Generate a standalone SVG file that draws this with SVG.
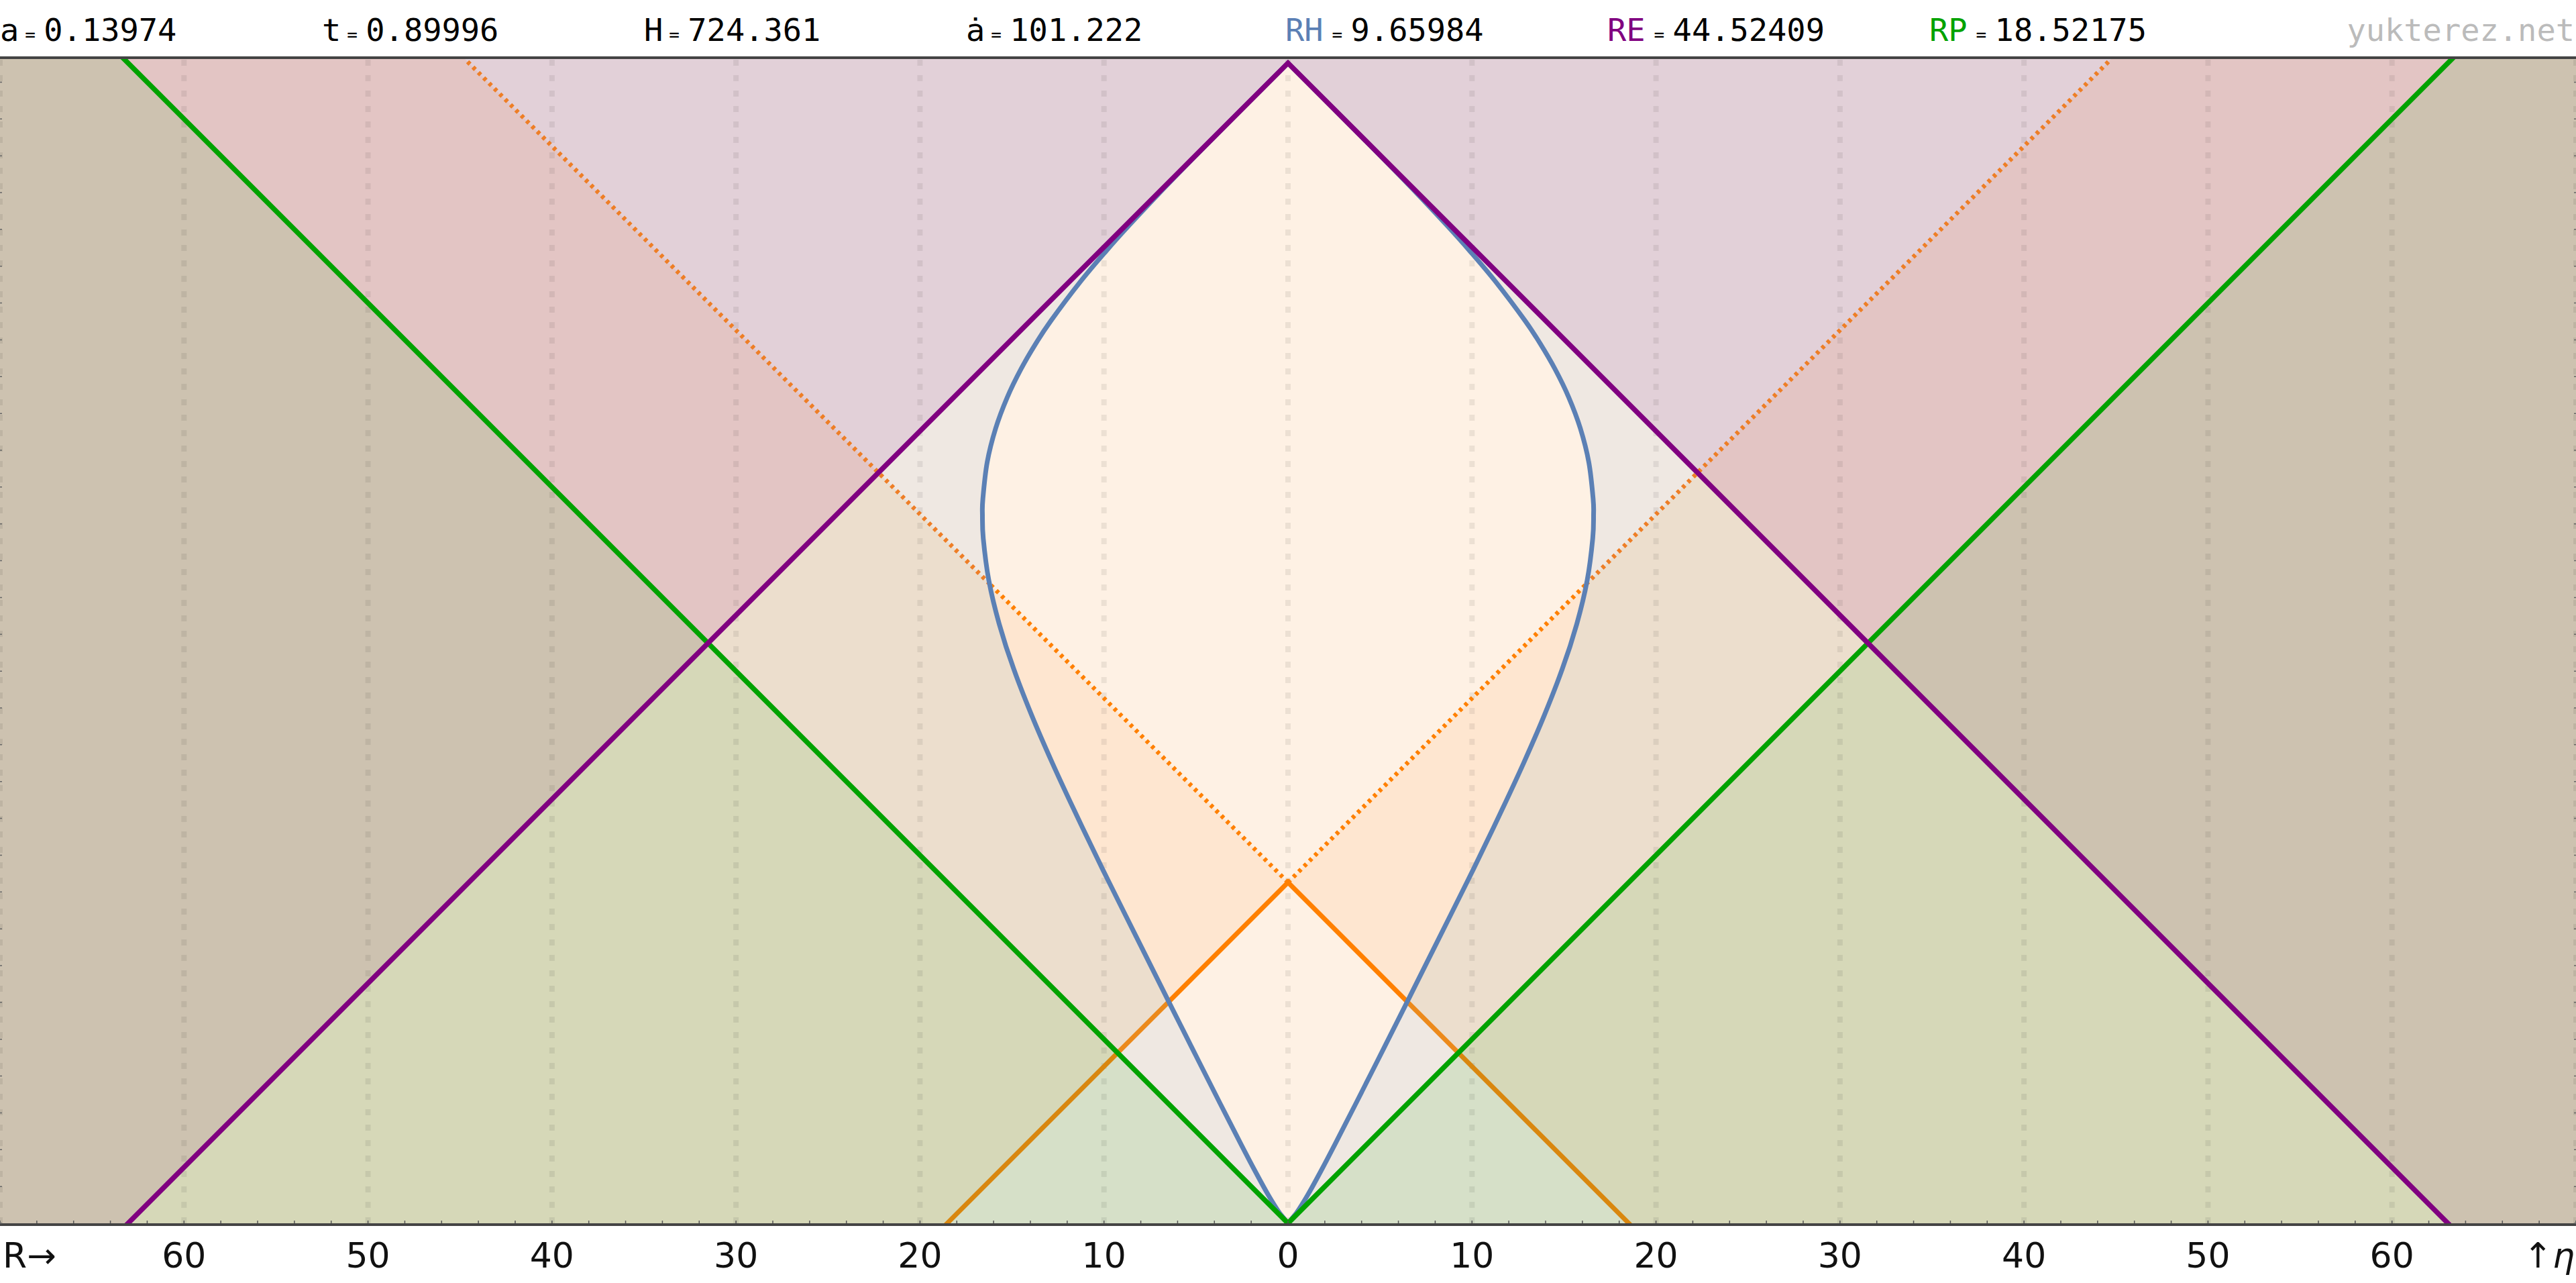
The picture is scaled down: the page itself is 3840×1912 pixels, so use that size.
<svg xmlns="http://www.w3.org/2000/svg" width="3840" height="1912" viewBox="0 0 3840 1912">
<defs>
<style>
.t{font-family:"DejaVu Sans Mono","Liberation Mono",monospace;font-size:47px;fill:#000}
.eq{font-size:26px}
.ax{font-family:"DejaVu Sans","Liberation Sans",sans-serif;font-size:52px;fill:#111;text-anchor:middle}
.grid{stroke:#000;stroke-opacity:0.07;stroke-width:8;stroke-dasharray:9 14;fill:none}
.dot{fill:none;stroke-width:6.5;stroke-dasharray:5 6.3}
.sol{fill:none;stroke-width:7;stroke-linejoin:miter}
</style>
<clipPath id="plot"><rect x="0" y="88" width="3840" height="1735"/></clipPath>
<path id="blueShape" d="M1920,1823 L1932.17,1808.25 C1937.08,1801.21 1943.33,1791.2 1949.45,1780.74 C1955.57,1770.28 1962.07,1758.18 1968.89,1745.48 C1975.71,1732.78 1981.78,1721.14 1990.36,1704.56 C1998.94,1687.98 2011.56,1663.28 2020.39,1645.98 C2029.22,1628.68 2036.28,1614.67 2043.32,1600.77 C2050.36,1586.87 2055.26,1577.17 2062.61,1562.6 C2069.96,1548.03 2079.69,1528.7 2087.41,1513.33 C2095.13,1497.97 2099.21,1489.87 2108.95,1470.41 C2118.69,1450.95 2132.92,1422.47 2145.86,1396.57 C2158.81,1370.67 2176.78,1334.83 2186.62,1315.03 C2196.46,1295.23 2196.15,1295.82 2204.9,1277.75 C2213.65,1259.68 2227.95,1230.25 2239.1,1206.6 C2250.26,1182.95 2261.33,1159.32 2271.83,1135.86 C2282.33,1112.4 2292.62,1089 2302.11,1065.86 C2311.61,1042.72 2320.73,1019.69 2328.8,997 C2337.1,974.31 2344.35,951.78 2350.55,929.73 C2356.75,907.68 2362.07,885.89 2366.02,864.68 C2369.97,843.47 2372.67,818.61 2374.25,802.47 C2375.83,786.33 2375.41,777.63 2375.51,767.83 C2375.62,758.03 2376.06,756.85 2374.88,743.69 C2373.7,730.53 2371.6,706.42 2368.41,688.85 C2365.22,671.28 2360.75,654.4 2355.76,638.26 C2350.77,622.12 2344.74,606.72 2338.47,592.03 C2332.2,577.34 2325.18,563.39 2318.13,550.11 C2311.08,536.83 2303.57,524.28 2296.16,512.33 C2288.75,500.38 2284.69,493.68 2273.69,478.39 C2262.69,463.11 2243.93,438 2230.16,420.62 C2216.4,403.24 2203.23,388.16 2191.1,374.13 C2178.97,360.11 2171.8,352.1 2157.39,336.47 C2142.98,320.84 2119.72,296.18 2104.63,280.35 C2093.74,269.21 2077.74,252.63 2066.85,241.49 C2058.12,232.65 2048.05,222.35 2039.31,213.51 C2032.19,206.35 2021.57,195.6 2014.44,188.44 C2007.57,181.56 2003.44,177.42 1996.56,170.53 C1988.79,162.75 1980.96,154.91 1973.19,147.13 C1966.54,140.48 1956.58,130.5 1949.93,123.85 C1945.74,119.66 1937.49,111.42 1933.3,107.23 C1931.08,105.01 1927.01,100.92 1924.79,98.7 L1920,93.93 L1915.21,98.7 C1912.99,100.92 1908.92,105.01 1906.7,107.23 C1902.51,111.42 1894.26,119.66 1890.07,123.85 C1883.42,130.5 1873.46,140.48 1866.81,147.13 C1859.04,154.91 1851.21,162.75 1843.44,170.53 C1836.56,177.42 1832.43,181.56 1825.56,188.44 C1818.43,195.6 1807.81,206.35 1800.69,213.51 C1791.95,222.35 1781.88,232.65 1773.15,241.49 C1762.26,252.63 1746.26,269.21 1735.37,280.35 C1720.28,296.18 1697.02,320.84 1682.61,336.47 C1668.2,352.1 1661.03,360.11 1648.9,374.13 C1636.77,388.16 1623.6,403.24 1609.84,420.62 C1596.07,438 1577.31,463.11 1566.31,478.39 C1555.31,493.68 1551.25,500.38 1543.84,512.33 C1536.43,524.28 1528.92,536.83 1521.87,550.11 C1514.82,563.39 1507.8,577.34 1501.53,592.03 C1495.26,606.72 1489.23,622.12 1484.24,638.26 C1479.25,654.4 1474.78,671.28 1471.59,688.85 C1468.4,706.42 1466.3,730.53 1465.12,743.69 C1463.94,756.85 1464.38,758.03 1464.49,767.83 C1464.59,777.63 1464.17,786.33 1465.75,802.47 C1467.33,818.61 1470.03,843.47 1473.98,864.68 C1477.93,885.89 1483.25,907.68 1489.45,929.73 C1495.65,951.78 1502.9,974.31 1511.2,997 C1519.27,1019.69 1528.39,1042.72 1537.89,1065.86 C1547.38,1089 1557.67,1112.4 1568.17,1135.86 C1578.67,1159.32 1589.74,1182.95 1600.9,1206.6 C1612.05,1230.25 1626.35,1259.68 1635.1,1277.75 C1643.85,1295.82 1643.54,1295.23 1653.38,1315.03 C1663.22,1334.83 1681.19,1370.67 1694.14,1396.57 C1707.08,1422.47 1721.31,1450.95 1731.05,1470.41 C1740.79,1489.87 1744.87,1497.97 1752.59,1513.33 C1760.31,1528.7 1770.04,1548.03 1777.39,1562.6 C1784.74,1577.17 1789.64,1586.87 1796.68,1600.77 C1803.72,1614.67 1810.78,1628.68 1819.61,1645.98 C1828.44,1663.28 1841.06,1687.98 1849.64,1704.56 C1858.22,1721.14 1864.29,1732.78 1871.11,1745.48 C1877.93,1758.18 1884.43,1770.28 1890.55,1780.74 C1896.67,1791.2 1902.92,1801.21 1907.83,1808.25 Z"/>
<clipPath id="blueClip"><use href="#blueShape"/></clipPath>
</defs>
<rect x="0" y="0" width="3840" height="1912" fill="#ffffff"/>
<g clip-path="url(#plot)">
  <g id="regions">
    <rect x="0" y="88" width="3840" height="1735" fill="#cdc2b0"/>
    <polygon id="green-cone" points="1920,1823 170,73 3670,73" fill="#e3c5c4"/>
    <polygon id="purple-cone" points="1920,93.93 182.9,1831 3657.1,1831" fill="#d6d8b8"/>
    <polygon id="overlap" points="1920,93.93 1055.47,958.47 1920,1823 2784.53,958.47" fill="#ecdecd"/>
    <polygon id="upper-x" points="1920,1315 680,75 3160,75" fill="#e2d0d8"/>
    <polygon id="upper-x-in" points="1920,93.93 1309.47,704.47 1920,1315 2530.53,704.47" fill="#efe8e2"/>
    <polygon id="lower-x" points="1920,1315 1404,1831 2436,1831" fill="#d6e0c8"/>
    <polygon id="lower-x-in" points="1920,1315 1666,1569 1920,1823 2174,1569" fill="#efe8e2"/>
    <use id="hubble-fill" href="#blueShape" fill="#fee6d0"/>
    <g clip-path="url(#blueClip)" fill="#fef1e4">
      <polygon points="1920,1315 680,75 3160,75"/>
      <polygon points="1920,1315 1404,1831 2436,1831"/>
    </g>
  </g>
  <g id="grid" class="grid">
    <path d="M0,89V1823M274.29,89V1823M548.57,89V1823M822.86,89V1823M1097.14,89V1823M1371.43,89V1823M1645.71,89V1823M1920,89V1823M2194.29,89V1823M2468.57,89V1823M2742.86,89V1823M3017.14,89V1823M3291.43,89V1823M3565.71,89V1823M3840,89V1823"/>
  </g>
  <g id="connectors">
    <g id="orange-dotted">
      <path class="dot" stroke="#ee7e26" d="M1475.7,870.6 L693,88 M2364.3,870.6 L3147,88"/>
      <path class="dot" stroke="#ff8000" d="M1920,1315 L1475.7,870.6 M1920,1315 L2364.3,870.6"/>
    </g>
    <g id="orange-solid">
      <path class="sol" stroke="#d9870f" d="M1404,1831 L1666,1569 M2436,1831 L2174,1569"/>
      <path class="sol" stroke="#ec8a1c" d="M1666,1569 L1742.3,1492.7 M2174,1569 L2097.7,1492.7"/>
      <path class="sol" stroke="#ff8000" d="M1742.3,1492.7 L1920,1315 L2097.7,1492.7"/>
    </g>
    <use id="hubble-line" href="#blueShape" fill="none" stroke="#5b80b5" stroke-width="7" stroke-linejoin="round"/>
    <path id="green-line" d="M170,73 L1920,1823 L3670,73" fill="none" stroke="#00a200" stroke-width="7.5"/>
    <path id="purple-line" d="M182.9,1831 L1920,93.93 L3657.1,1831" fill="none" stroke="#800080" stroke-width="7.5"/>
  </g>
</g>
<g id="axes">
  <rect x="0" y="84" width="3840" height="4" fill="#444"/>
  <rect x="0" y="1823" width="3840" height="4" fill="#444"/>
  <line x1="-0.75" y1="1821" x2="3841" y2="1821" stroke="#555" stroke-width="4" stroke-dasharray="1.5 53.357"/>
  <line x1="1.5" y1="1823.75" x2="1.5" y2="88" stroke="#666" stroke-width="3" stroke-dasharray="1.5 53.357"/>
  <line x1="3838.5" y1="1823.75" x2="3838.5" y2="88" stroke="#666" stroke-width="3" stroke-dasharray="1.5 53.357"/>
</g>
<g id="header">
  <text class="t" x="0" y="61">a</text><text class="t eq" x="37.3" y="61">=</text><text class="t" x="65.3" y="61">0.13974</text>
  <text class="t" x="480" y="61">t</text><text class="t eq" x="517.3" y="61">=</text><text class="t" x="545.3" y="61">0.89996</text>
  <text class="t" x="960" y="61">H</text><text class="t eq" x="997.3" y="61">=</text><text class="t" x="1025.3" y="61">724.361</text>
  <text class="t" x="1440" y="61">ȧ</text><text class="t eq" x="1477.3" y="61">=</text><text class="t" x="1505.3" y="61">101.222</text>
  <text class="t" x="1916" y="61" style="fill:#5b80b5">RH</text><text class="t eq" x="1985.6" y="61">=</text><text class="t" x="2013.6" y="61">9.65984</text>
  <text class="t" x="2396" y="61" style="fill:#800080">RE</text><text class="t eq" x="2465.6" y="61">=</text><text class="t" x="2493.6" y="61">44.52409</text>
  <text class="t" x="2876" y="61" style="fill:#00a200">RP</text><text class="t eq" x="2945.6" y="61">=</text><text class="t" x="2973.6" y="61">18.52175</text>
  <text class="t" x="3838" y="61" style="fill:#bbbbbb;text-anchor:end">yukterez.net</text>
</g>
<g id="footer">
  <text class="ax" x="4" y="1889" style="text-anchor:start">R→</text>
  <text class="ax" x="274.29" y="1889">60</text>
  <text class="ax" x="548.57" y="1889">50</text>
  <text class="ax" x="822.86" y="1889">40</text>
  <text class="ax" x="1097.14" y="1889">30</text>
  <text class="ax" x="1371.43" y="1889">20</text>
  <text class="ax" x="1645.71" y="1889">10</text>
  <text class="ax" x="1920" y="1889">0</text>
  <text class="ax" x="2194.29" y="1889">10</text>
  <text class="ax" x="2468.57" y="1889">20</text>
  <text class="ax" x="2742.86" y="1889">30</text>
  <text class="ax" x="3017.14" y="1889">40</text>
  <text class="ax" x="3291.43" y="1889">50</text>
  <text class="ax" x="3565.71" y="1889">60</text>
  <text class="ax" x="3838" y="1889" style="text-anchor:end">↑<tspan font-style="italic">η</tspan></text>
</g>
</svg>
